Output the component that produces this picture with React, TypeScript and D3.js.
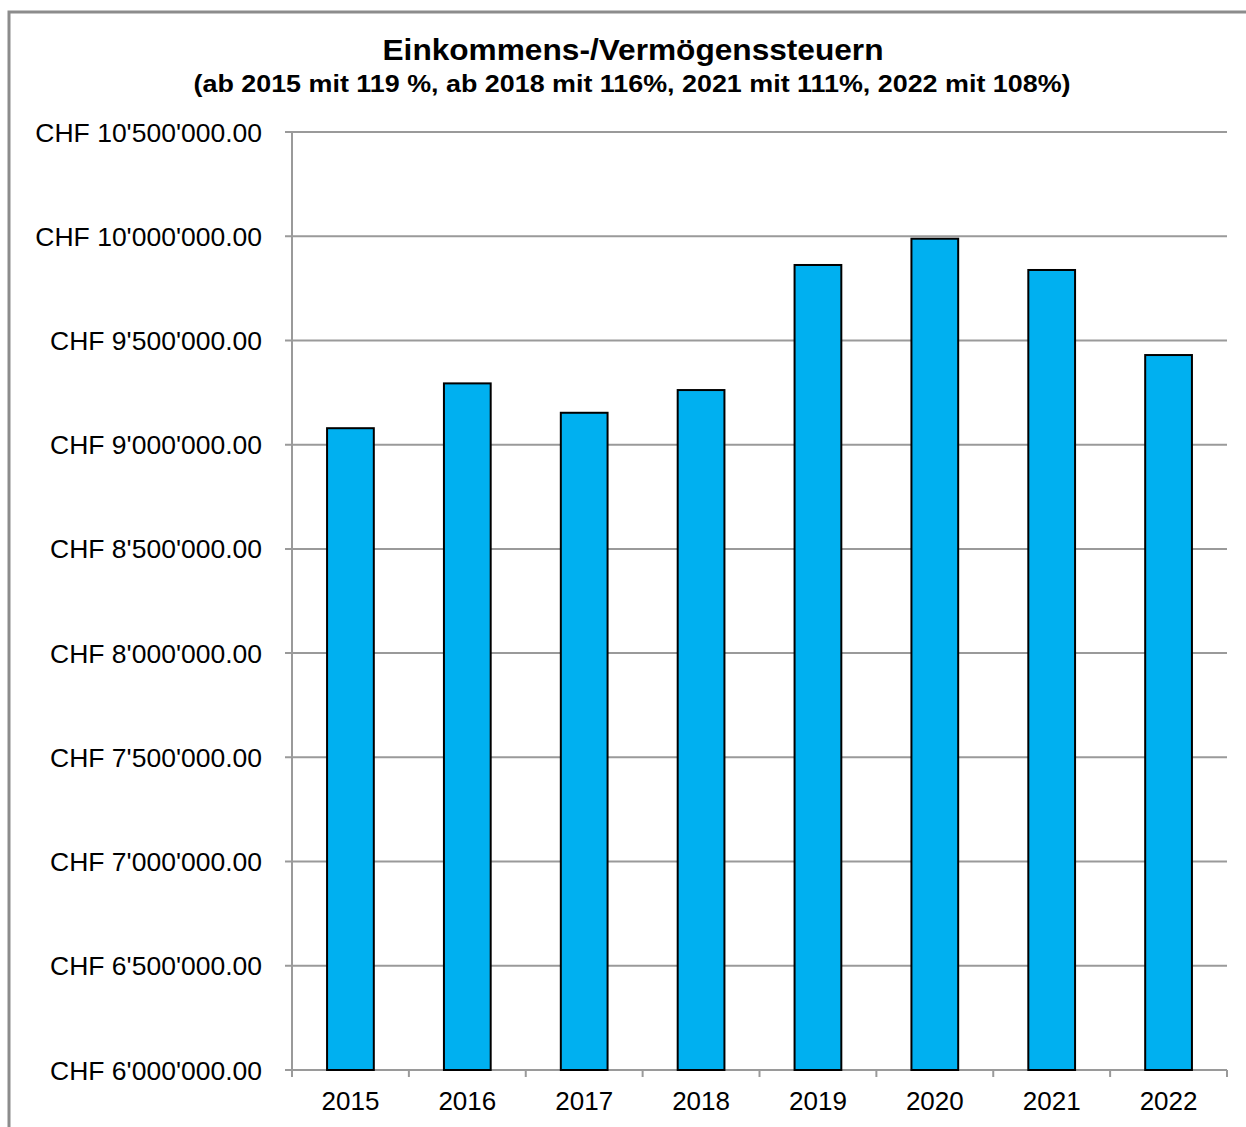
import React from "react";
import * as d3 from "d3";

const years = ["2015", "2016", "2017", "2018", "2019", "2020", "2021", "2022"];
const taxes = [9079000, 9294000, 9153000, 9262000, 9862000, 9988000, 9838000, 9430000];
const yTicks = [6000000, 6500000, 7000000, 7500000, 8000000, 8500000, 9000000, 9500000, 10000000, 10500000];
const title = "Einkommens-/Vermögenssteuern";
const subtitle = "(ab 2015 mit 119 %, ab 2018 mit 116%, 2021 mit 111%, 2022 mit 108%)";

const W = 1246;
const H = 1127;
const left = 292;
const right = 1227;
const top = 132;
const bottom = 1070;

function fmt(v: number): string {
  const s = Math.round(v).toString();
  const parts: string[] = [];
  for (let i = s.length; i > 0; i -= 3) parts.unshift(s.slice(Math.max(0, i - 3), i));
  return "CHF " + parts.join("'") + ".00";
}

export default function App() {
  const x = d3.scaleBand<string>().domain(years).range([left, right]).paddingInner(0).paddingOuter(0);
  const y = d3.scaleLinear().domain([6000000, 10500000]).range([bottom, top]);
  const bw = x.bandwidth() * 0.4;
  const font = "'Liberation Sans', Arial, sans-serif";
  const grid = "#9a9a9a";
  const bounds = years.map((yr) => x(yr) as number).concat([right]);

  return (
    <svg width={W} height={H} style={{ position: "absolute", left: 0, top: 0, background: "#fff" }} fontFamily={font}>
      <rect x={0} y={0} width={W} height={H} fill="#fff" />
      <rect x={9} y={12} width={W + 20} height={H + 20} fill="none" stroke="#8c8c8c" strokeWidth={3} />
      <text x={633} y={60} textAnchor="middle" fontSize={29} fontWeight="bold" textLength={501} lengthAdjust="spacingAndGlyphs">{title}</text>
      <text x={632} y={92} textAnchor="middle" fontSize={24} fontWeight="bold" textLength={877} lengthAdjust="spacingAndGlyphs">{subtitle}</text>
      {yTicks.map((t) => (
        <g key={t}>
          <line x1={285} x2={right} y1={y(t)} y2={y(t)} stroke={grid} strokeWidth={2} />
          <text x={262} y={y(t)} dy="0.36em" textAnchor="end" fontSize={26.5} fill="#000">{fmt(t)}</text>
        </g>
      ))}
      <line x1={left} x2={left} y1={top} y2={bottom + 7} stroke={grid} strokeWidth={2} />
      {bounds.map((b, i) => (
        <line key={i} x1={b} x2={b} y1={bottom} y2={bottom + 7} stroke={grid} strokeWidth={2} />
      ))}
      {years.map((yr, i) => {
        const cx = (x(yr) as number) + x.bandwidth() / 2;
        return (
          <g key={yr}>
            <rect x={cx - bw / 2} y={y(taxes[i])} width={bw} height={bottom - y(taxes[i])} fill="#00B0F0" stroke="#000" strokeWidth={2} />
            <text x={cx} y={1110} textAnchor="middle" fontSize={26} fill="#000">{yr}</text>
          </g>
        );
      })}
    </svg>
  );
}
